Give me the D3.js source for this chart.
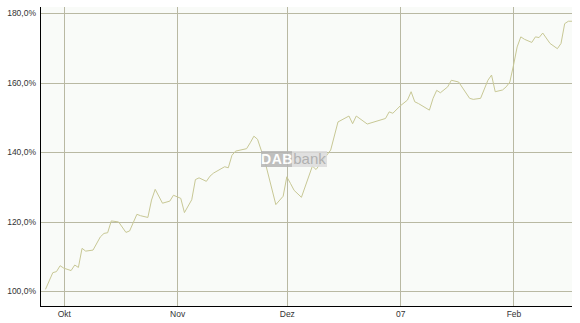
<!DOCTYPE html>
<html>
<head>
<meta charset="utf-8">
<script src="https://cdn.jsdelivr.net/npm/d3@7"></script>
<style>
  body { margin: 0; background: #ffffff; }
  svg { display: block; }
</style>
</head>
<body>
<div id="chart"></div>
<script>
// data: date and index level in percent
var dates = [
    "2006-09-26", "2006-09-28", "2006-09-29", "2006-09-30", "2006-10-01", "2006-10-03",
    "2006-10-04", "2006-10-05", "2006-10-06", "2006-10-07", "2006-10-09", "2006-10-11",
    "2006-10-12", "2006-10-13", "2006-10-14", "2006-10-16", "2006-10-18", "2006-10-19",
    "2006-10-21", "2006-10-22", "2006-10-24", "2006-10-25", "2006-10-26", "2006-10-28",
    "2006-10-30", "2006-10-31", "2006-11-02", "2006-11-03", "2006-11-05", "2006-11-06",
    "2006-11-07", "2006-11-09", "2006-11-10", "2006-11-11", "2006-11-13", "2006-11-14",
    "2006-11-15", "2006-11-16", "2006-11-17", "2006-11-20", "2006-11-21", "2006-11-22",
    "2006-11-23", "2006-11-25", "2006-11-28", "2006-11-30", "2006-12-01", "2006-12-02",
    "2006-12-03", "2006-12-05", "2006-12-08", "2006-12-09", "2006-12-13", "2006-12-15",
    "2006-12-18", "2006-12-19", "2006-12-20", "2006-12-23", "2006-12-28", "2006-12-29",
    "2006-12-30", "2007-01-01", "2007-01-03", "2007-01-04", "2007-01-05", "2007-01-06",
    "2007-01-09", "2007-01-10", "2007-01-11", "2007-01-12", "2007-01-14", "2007-01-15",
    "2007-01-17", "2007-01-20", "2007-01-21", "2007-01-23", "2007-01-25", "2007-01-26",
    "2007-01-27", "2007-01-29", "2007-01-30", "2007-01-31", "2007-02-01", "2007-02-02",
    "2007-02-03", "2007-02-04", "2007-02-06", "2007-02-07", "2007-02-08", "2007-02-09",
    "2007-02-11", "2007-02-13", "2007-02-14", "2007-02-15", "2007-02-16", "2007-02-17"
];
var values = [
    100.5, 105.3, 105.6, 107.3, 106.6, 105.9,
    107.5, 106.8, 112.3, 111.5, 111.8, 115.6,
    116.6, 116.8, 120.2, 119.9, 116.9, 117.3,
    122.1, 121.7, 121.2, 126.2, 129.3, 125.3,
    125.9, 127.6, 126.7, 122.6, 126.3, 132.1,
    132.6, 131.6, 133.1, 134.0, 135.2, 135.8,
    135.5, 139.1, 140.3, 141.0, 142.7, 144.6,
    143.7, 137.4, 124.9, 127.3, 132.9, 131.0,
    129.0, 127.0, 136.0, 135.0, 140.6, 148.7,
    150.4, 148.2, 150.4, 148.1, 149.7, 151.6,
    151.2, 153.3, 155.0, 157.4, 154.5, 154.0,
    152.1, 155.5, 157.8, 157.1, 158.8, 160.7,
    160.2, 155.5, 155.2, 155.5, 160.7, 162.2,
    157.4, 157.9, 158.8, 160.2, 165.0, 170.3,
    173.2, 172.5, 171.6, 173.2, 173.0, 174.3,
    171.3, 169.8, 171.3, 177.0, 177.7, 177.7
];
var yTicks = [100, 120, 140, 160, 180];
var monthTicks = ["2006-10-01", "2006-11-01", "2006-12-01", "2007-01-01", "2007-02-01"];
var monthLabels = ["Okt", "Nov", "Dez", "07", "Feb"];

var width = 580, height = 323;
var margin = { top: 7, right: 8, bottom: 17, left: 40 };
var plot_w = width - margin.left - margin.right;
var plot_h = height - margin.top - margin.bottom;

var parse = d3.timeParse("%Y-%m-%d");
var data = dates.map(function(d, i) { return { date: parse(d), value: values[i] }; });

var svg = d3.select("#chart").append("svg")
    .attr("width", width)
    .attr("height", height);

var g = svg.append("g")
    .attr("transform", "translate(" + margin.left + " " + margin.top + ")");

var x = d3.scaleTime()
    .domain([new Date(2006, 8, 24, 12), new Date(2007, 1, 17, 0)])
    .range([0, plot_w]);

var y = d3.scaleLinear()
    .domain([95.7, 181.8])
    .range([plot_h, 0]);

// plot background
g.append("rect")
    .attr("width", plot_w)
    .attr("height", plot_h)
    .attr("fill", "#f9fbf8");

// grid
g.append("g").selectAll("line")
    .data(yTicks).enter()
    .append("line")
        .attr("x1", 0)
        .attr("x2", plot_w)
        .attr("y1", function(d) { return Math.round(y(d)) + 0.5; })
        .attr("y2", function(d) { return Math.round(y(d)) + 0.5; })
        .attr("stroke", "#b9b9a3");

g.append("g").selectAll("line")
    .data(monthTicks).enter()
    .append("line")
        .attr("x1", function(d) { return Math.round(x(parse(d))) + 0.5; })
        .attr("x2", function(d) { return Math.round(x(parse(d))) + 0.5; })
        .attr("y1", 0)
        .attr("y2", plot_h)
        .attr("stroke", "#b9b9a3");

// the line
var line = d3.line()
    .x(function(d) { return x(d.date); })
    .y(function(d) { return y(d.value); });

g.append("path")
    .datum(data)
    .attr("d", line)
    .attr("fill", "none")
    .attr("stroke", "#c8c895")
    .attr("stroke-width", 1);

// watermark
var wm = g.append("g")
    .attr("transform", "translate(" + (261 - margin.left) + " " + (151 - margin.top) + ")")
    .attr("opacity", 0.85);
wm.append("rect").attr("width", 31).attr("height", 16).attr("fill", "#b5b5b5");
wm.append("rect").attr("x", 31).attr("width", 35).attr("height", 16).attr("fill", "#dcdcdc");
wm.append("text")
    .attr("x", 16).attr("y", 13)
    .attr("text-anchor", "middle")
    .attr("font-family", "Liberation Sans, Arial, sans-serif")
    .attr("font-weight", "bold")
    .attr("font-size", "14px")
    .attr("letter-spacing", "0.6px")
    .attr("fill", "#ffffff")
    .text("DAB");
wm.append("text")
    .attr("x", 48.5).attr("y", 13)
    .attr("text-anchor", "middle")
    .attr("font-family", "Liberation Sans, Arial, sans-serif")
    .attr("font-size", "15px")
    .attr("fill", "#a4a4a4")
    .text("bank");

// axes
var fmt = function(d) { return d3.format(".1f")(d).replace(".", ",") + "%"; };

var yAxis = g.append("g")
    .attr("class", "y-axis")
    .call(d3.axisLeft(y).tickValues(yTicks).tickSize(0).tickPadding(4).tickFormat(fmt));
yAxis.select(".domain").remove();
yAxis.selectAll("text")
    .attr("font-family", "Liberation Sans, Arial, sans-serif")
    .attr("font-size", "8.5px")
    .attr("fill", "#333333");

var xAxis = g.append("g")
    .attr("class", "x-axis")
    .attr("transform", "translate(0 " + plot_h + ")")
    .call(d3.axisBottom(x).tickValues(monthTicks.map(parse)).tickSize(0).tickPadding(5)
        .tickFormat(function(d, i) { return monthLabels[i]; }));
xAxis.select(".domain").remove();
xAxis.selectAll("text")
    .attr("font-family", "Liberation Sans, Arial, sans-serif")
    .attr("font-size", "8.5px")
    .attr("fill", "#333333");

// black axis lines
g.append("line")
    .attr("x1", 0.5).attr("x2", 0.5)
    .attr("y1", 0).attr("y2", plot_h)
    .attr("stroke", "#000000");
g.append("line")
    .attr("x1", 0).attr("x2", plot_w)
    .attr("y1", plot_h + 0.5).attr("y2", plot_h + 0.5)
    .attr("stroke", "#000000");
</script>
</body>
</html>
